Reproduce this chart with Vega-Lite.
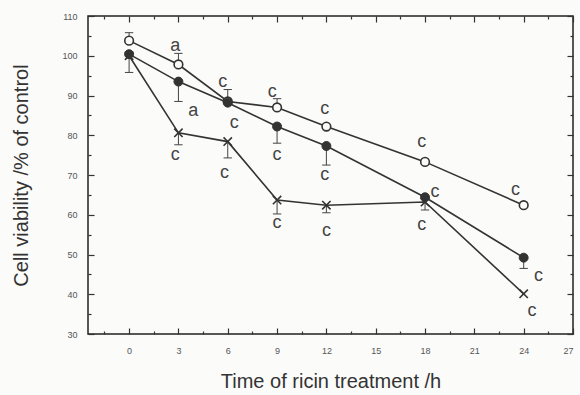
{
  "$schema": "https://vega.github.io/schema/vega-lite/v6.json",
  "width": 485,
  "height": 318,
  "autosize": "none",
  "padding": {"left": 88, "top": 16, "right": 7, "bottom": 61},
  "background": "#fbfbfa",
  "config": {
    "view": {"stroke": "#222", "strokeWidth": 1.5},
    "font": "Liberation Sans",
    "axis": {"domain": false, "grid": false, "tickColor": "#333", "tickWidth": 1.2, "labelColor": "#555", "labelFontSize": 9, "titleColor": "#333", "titleFontSize": 20, "titleFontWeight": "normal"}
  },
  "datasets": {
    "series": [
      {"t": 0, "v": 103.8, "s": "open"},
      {"t": 3, "v": 97.8, "s": "open"},
      {"t": 6, "v": 88.5, "s": "open"},
      {"t": 9, "v": 87.0, "s": "open"},
      {"t": 12, "v": 82.2, "s": "open"},
      {"t": 18, "v": 73.3, "s": "open"},
      {"t": 24, "v": 62.4, "s": "open"},
      {"t": 0, "v": 100.4, "s": "filled"},
      {"t": 3, "v": 93.5, "s": "filled"},
      {"t": 6, "v": 88.2, "s": "filled"},
      {"t": 9, "v": 82.2, "s": "filled"},
      {"t": 12, "v": 77.3, "s": "filled"},
      {"t": 18, "v": 64.4, "s": "filled"},
      {"t": 24, "v": 49.2, "s": "filled"},
      {"t": 0, "v": 100.0, "s": "cross"},
      {"t": 3, "v": 80.6, "s": "cross"},
      {"t": 6, "v": 78.4, "s": "cross"},
      {"t": 9, "v": 63.7, "s": "cross"},
      {"t": 12, "v": 62.4, "s": "cross"},
      {"t": 18, "v": 63.2, "s": "cross"},
      {"t": 24, "v": 40.1, "s": "cross"}
    ],
    "errors": [
      {"t": 0, "v": 103.8, "e": 105.8},
      {"t": 0, "v": 100.4, "e": 95.8},
      {"t": 3, "v": 97.8, "e": 100.6},
      {"t": 3, "v": 93.5, "e": 88.5},
      {"t": 6, "v": 88.5, "e": 91.5},
      {"t": 9, "v": 87.0, "e": 89.2},
      {"t": 9, "v": 82.2, "e": 78.0},
      {"t": 12, "v": 77.3, "e": 72.5},
      {"t": 24, "v": 49.2, "e": 46.5},
      {"t": 3, "v": 80.6, "e": 77.6},
      {"t": 6, "v": 78.4, "e": 74.3},
      {"t": 9, "v": 63.7, "e": 60.2},
      {"t": 12, "v": 62.4, "e": 60.5},
      {"t": 18, "v": 63.2, "e": 61.2}
    ],
    "letters": [
      {"x": 2.8, "y": 102.4, "label": "a"},
      {"x": 3.9, "y": 86.0, "label": "a"},
      {"x": 5.7, "y": 93.5, "label": "c"},
      {"x": 6.4, "y": 83.2, "label": "c"},
      {"x": 2.8, "y": 75.0, "label": "c"},
      {"x": 5.8, "y": 70.5, "label": "c"},
      {"x": 8.7, "y": 91.0, "label": "c"},
      {"x": 9.0, "y": 75.0, "label": "c"},
      {"x": 9.0, "y": 58.0, "label": "c"},
      {"x": 11.9, "y": 86.5, "label": "c"},
      {"x": 11.9, "y": 70.0, "label": "c"},
      {"x": 12.0, "y": 56.0, "label": "c"},
      {"x": 17.8, "y": 78.4, "label": "c"},
      {"x": 18.6, "y": 65.7, "label": "c"},
      {"x": 17.8, "y": 57.3, "label": "c"},
      {"x": 23.5, "y": 66.2, "label": "c"},
      {"x": 24.9, "y": 44.7, "label": "c"},
      {"x": 24.5, "y": 35.8, "label": "c"}
    ]
  },
  "resolve": {"axis": {"x": "independent", "y": "independent"}},
  "layer": [
    {
      "data": {"name": "series"},
      "mark": {"type": "line", "color": "#333", "strokeWidth": 1.6},
      "encoding": {
        "x": {"field": "t", "type": "quantitative",
          "scale": {"domain": [-2.5, 27], "nice": false, "zero": false},
          "axis": {"orient": "bottom", "title": "Time of ricin treatment /h", "titlePadding": 16,
            "values": [-1.5, 0, 1.5, 3, 4.5, 6, 7.5, 9, 10.5, 12, 13.5, 15, 16.5, 18, 19.5, 21, 22.5, 24, 25.5, 27],
            "labelExpr": "datum.value % 3 === 0 ? datum.label : ''",
            "tickSize": {"condition": {"test": "datum.value % 3 === 0", "value": -6}, "value": -3},
            "labelPadding": 18}},
        "y": {"field": "v", "type": "quantitative",
          "scale": {"domain": [30, 110], "nice": false, "zero": false},
          "axis": {"orient": "left", "title": "Cell viability /% of control", "titlePadding": 30,
            "values": [30, 35, 40, 45, 50, 55, 60, 65, 70, 75, 80, 85, 90, 95, 100, 105, 110],
            "labelExpr": "datum.value % 10 === 0 ? datum.label : ''",
            "tickSize": {"condition": {"test": "datum.value % 10 === 0", "value": -6}, "value": -3},
            "labelPadding": 17}},
        "detail": {"field": "s"}
      }
    },
    {
      "data": {"name": "errors"},
      "mark": {"type": "rule", "color": "#444", "strokeWidth": 1},
      "encoding": {
        "x": {"field": "t", "type": "quantitative", "axis": {"orient": "top", "title": null, "labels": false,
            "values": [-1.5, 0, 1.5, 3, 4.5, 6, 7.5, 9, 10.5, 12, 13.5, 15, 16.5, 18, 19.5, 21, 22.5, 24, 25.5, 27],
            "tickSize": {"condition": {"test": "datum.value % 3 === 0", "value": -6}, "value": -3}}},
        "y": {"field": "v", "type": "quantitative", "axis": {"orient": "right", "title": null, "labels": false,
            "values": [30, 35, 40, 45, 50, 55, 60, 65, 70, 75, 80, 85, 90, 95, 100, 105, 110],
            "tickSize": {"condition": {"test": "datum.value % 10 === 0", "value": -6}, "value": -3}}},
        "y2": {"field": "e"}
      }
    },
    {
      "data": {"name": "errors"},
      "mark": {"type": "point", "shape": "stroke", "size": 70, "color": "#444", "strokeWidth": 1, "opacity": 1},
      "encoding": {
        "x": {"field": "t", "type": "quantitative", "axis": null},
        "y": {"field": "e", "type": "quantitative", "axis": null}
      }
    },
    {
      "data": {"name": "series"},
      "transform": [{"filter": "datum.s === 'open'"}],
      "mark": {"type": "point", "shape": "circle", "size": 75, "filled": true, "fill": "#fbfbfa", "stroke": "#333", "strokeWidth": 1.6, "opacity": 1},
      "encoding": {
        "x": {"field": "t", "type": "quantitative", "axis": null},
        "y": {"field": "v", "type": "quantitative", "axis": null}
      }
    },
    {
      "data": {"name": "series"},
      "transform": [{"filter": "datum.s === 'filled'"}],
      "mark": {"type": "point", "shape": "circle", "size": 80, "filled": true, "fill": "#333", "stroke": "#333", "strokeWidth": 1, "opacity": 1},
      "encoding": {
        "x": {"field": "t", "type": "quantitative", "axis": null},
        "y": {"field": "v", "type": "quantitative", "axis": null}
      }
    },
    {
      "data": {"name": "series"},
      "transform": [{"filter": "datum.s === 'cross'"}],
      "mark": {"type": "point", "shape": "M-1,-1L1,1M1,-1L-1,1", "size": 70, "filled": false, "stroke": "#333", "strokeWidth": 1.6, "opacity": 1},
      "encoding": {
        "x": {"field": "t", "type": "quantitative", "axis": null},
        "y": {"field": "v", "type": "quantitative", "axis": null}
      }
    },
    {
      "data": {"name": "letters"},
      "mark": {"type": "text", "fontSize": 18, "color": "#444", "font": "Liberation Sans", "align": "center", "baseline": "middle"},
      "encoding": {
        "x": {"field": "x", "type": "quantitative", "axis": null},
        "y": {"field": "y", "type": "quantitative", "axis": null},
        "text": {"field": "label"}
      }
    }
  ]
}
